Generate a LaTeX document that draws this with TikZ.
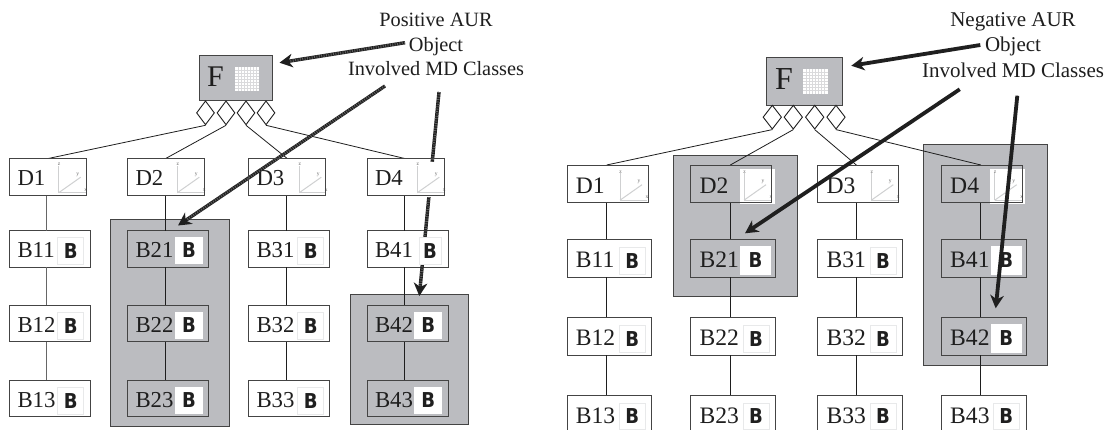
\documentclass[tikz,border=0pt]{standalone}
\usepackage{fontspec}
\setmainfont{Liberation Serif}
\newfontfamily\bfam{DejaVu Sans}
\usetikzlibrary{arrows.meta,shapes.geometric,calc}
\definecolor{grp}{HTML}{BBBCC0}
\definecolor{ink}{HTML}{1E1E1E}
\definecolor{edgec}{HTML}{444444}
\definecolor{faint}{HTML}{E8E9EA}
\definecolor{axisc}{HTML}{CFD0D1}
\newcommand{\bglyph}{\scalebox{.88}[1]{B}}
\tikzset{
  x=1pt,y=-1pt,
  grpbox/.style={draw=edgec,line width=1pt,fill=grp,anchor=north west,inner sep=0pt,rectangle},
  ebox/.style={draw=edgec,line width=1pt,outer sep=0pt,anchor=north west,inner ysep=0pt,align=left,rectangle,text=ink},
  lbox/.style={ebox,inner xsep=8pt,font=\fontsize{22.8}{23}\selectfont,text depth=9.2pt,text height=27.4pt},
  rbox/.style={ebox,inner xsep=8.9pt,font=\fontsize{23.6}{24}\selectfont,text depth=9.6pt,text height=28.2pt},
  dia/.style={diamond,draw=ink,line width=.9pt,fill=white,inner sep=0pt,aspect=.74,minimum width=18pt,minimum height=24pt,anchor=north},
  link/.style={draw=ink,line width=.8pt},
  vlink/.style={draw=black!60,line width=1pt},
  capt/.style={anchor=base,inner sep=0pt,text=ink},
  bicon/.style={rectangle,fill=white,draw=faint,line width=.7pt,inner sep=0pt,minimum width=26pt,minimum height=26.5pt,
     font=\bfam\bfseries\fontsize{20.5}{21}\selectfont,text=black!88},
  bwhite/.style={rectangle,fill=white,inner sep=0pt,minimum width=28pt,minimum height=27.5pt,
     font=\bfam\bfseries\fontsize{20.5}{21}\selectfont,text=black!88},
  dback/.style={rectangle,fill=white,inner sep=0pt},
  axisl/.style={draw=axisc,line width=1pt},
  axist/.style={inner sep=0pt,font=\fontsize{5.5}{6}\selectfont,text=black!60},
  fgrid/.style={rectangle,fill=white,inner sep=0pt},
  gridl/.style={draw=grp!55,line width=.5pt},
  bigarrow/.style={-{Stealth[length=13pt,width=13.5pt,inset=4pt]},line width=#1,draw=black!88,fill=black!88},
  hatch/.style={draw=black!62,line width=2.6pt,dash pattern=on .8pt off 1.6pt,shorten >=10pt},
  boxedge/.style={draw=edgec,line width=1pt},
}
% name, centre x, centre y, width, height
\newcommand{\dicon}[5]{%
  \node[dback,minimum width=#4pt,minimum height=#5pt] (#1) at (#2,#3) {};
  \coordinate (#1o) at ($(#2,#3)+(-13,#5/2-3.8)$);
  \draw[axisl] (#1o) -- ++(0,-27);
  \draw[axisl] (#1o) -- ++(27,0);
  \draw[axisl] (#1o) -- ++(22,-15.5);
  \node[axist] at ($(#1o)+(.5,-28)$) {z};
  \node[axist] at ($(#1o)+(19,-18)$) {y};
  \node[axist] at ($(#1o)+(27,-2.5)$) {x};}
% name, x0, y0, size
\newcommand{\gridicon}[4]{%
  \node[fgrid,minimum size=#4pt,anchor=north west] (#1) at (#2,#3) {};
  \foreach \k in {1,...,7}{
    \draw[gridl] ($(#1.north west)+(\k*#4/8,0)$) -- ($(#1.south west)+(\k*#4/8,0)$);
    \draw[gridl] ($(#1.north west)+(0,\k*#4/8)$) -- ($(#1.north east)+(0,\k*#4/8)$);
  }}
\begin{document}
\begin{tikzpicture}
\useasboundingbox (0,0) rectangle (1113,429);
\clip (0,0) rectangle (1113,429);
\fill[white] (0,0) rectangle (1113,429);
% ---------- LEFT ----------
\node[grpbox,minimum width=118.7pt,minimum height=207.3pt] (gA) at (110,219) {};
\node[grpbox,minimum width=118.5pt,minimum height=130pt] (gB) at (349.5,293.7) {};
\node[grpbox,minimum width=73pt,minimum height=45pt] (F) at (199,55) {};
\node[anchor=base west,inner sep=0pt,text=ink,font=\fontsize{30}{30}\selectfont] (Ft) at (207,86.7) {F};
\gridicon{Fg}{235}{67}{24}
\foreach \n/\x in {1/205.5,2/226,3/246,4/266}
  \node[dia] (d\n) at (\x,100.4) {};
\foreach \n/\x in {D1/9.5,D2/127.5,D3/248.5,D4/367}
  \node[lbox,fill=white,text width=77.4pt-16pt] (\n) at (\x,158.5) {\n};
\foreach \n/\x/\y/\f in {B11/9.5/230.5/white,B12/9.5/305.3/white,B13/9.5/380/white,
  B21/127.5/230.5/none,B22/127.5/305.3/none,B23/127.5/380/none,
  B31/248.5/230.5/white,B32/248.5/305.3/white,B33/248.5/380/white,
  B41/367/230.5/white,B42/367/305.3/none,B43/367/380/none}
  \node[lbox,fill=\f,text width=81pt-16pt] (\n) at (\x,\y) {\n};
\coordinate (ca) at (46.7,0);
\coordinate (cb) at (165,0);
\coordinate (cc) at (286,0);
\coordinate (cd) at (404.7,0);
\draw[link] (d1.south) -- (D1.north);
\draw[link] (d2.south) -- ($(D2.north)+(-.5,0)$);
\draw[link] (d3.south) -- (D3.north);
\draw[link] (d4.south) -- ($(D4.north)+(-1,0)$);
\draw[vlink] (D1.south -| ca) -- (B11.north -| ca) (B11.south -| ca) -- (B12.north -| ca) (B12.south -| ca) -- (B13.north -| ca);
\draw[link] (D2.south -| cb) -- (B21.north -| cb) (B21.south -| cb) -- (B22.north -| cb) (B22.south -| cb) -- (B23.north -| cb);
\draw[link] (D3.south -| cc) -- (B31.north -| cc) (B31.south -| cc) -- (B32.north -| cc) (B32.south -| cc) -- (B33.north -| cc);
\draw[link] (D4.south -| cd) -- (B41.north -| cd) (B41.south -| cd) -- (B42.north -| cd) (B42.south -| cd) -- (B43.north -| cd);
\node[capt,font=\fontsize{20.3}{20}\selectfont] (pa) at (436,26) {Positive AUR};
\node[capt,font=\fontsize{20.3}{20}\selectfont] (pb) at (436,51) {Object};
\node[capt,font=\fontsize{20.3}{20}\selectfont] (pc) at (436,75) {Involved MD Classes};
\coordinate (pb1) at (405,42.7);
\coordinate (pc1) at (385,86);
\coordinate (pc2) at (439,92);
\coordinate (at1) at (279.5,62.7);
\coordinate (at2) at (178,225.5);
\coordinate (at3) at (419.3,296);
\foreach \s/\e in {pb1/at1,pc1/at2,pc2/at3}{
  \draw[bigarrow=3.4pt] (\s) -- (\e);
  \draw[hatch] (\s) -- (\e);
}
\foreach \n/\x in {1/71.7,2/190.3,3/312.3,4/430.3}
  \dicon{dI\n}{\x}{179}{30}{35}
\foreach \n in {D1,D2,D3,D4}
  \draw[boxedge] (\n.south west) rectangle (\n.north east);
\foreach \n/\x/\y in {B11/70.7/251,B12/70.7/326,B13/70.7/400.7,B31/310.7/251,B32/310.7/326,B33/310.7/400.7}
  \node[bicon] (i\n) at (\x,\y) {\bglyph};
\node[bicon,minimum width=22pt] (iB41) at (430,251) {\bglyph};
\foreach \n/\x/\y in {B21/189/250.5,B22/189/325.3,B23/189/400.3,B42/428.3/325.3,B43/428.3/400.3}
  \node[bwhite] (i\n) at (\x,\y) {\bglyph};
% ---------- RIGHT ----------
\node[grpbox,minimum width=124pt,minimum height=140.7pt] (hA) at (672.7,155.3) {};
\node[grpbox,minimum width=124pt,minimum height=221.6pt] (hB) at (923.3,143.7) {};
\node[grpbox,minimum width=75.7pt,minimum height=48pt] (G) at (766.3,56.7) {};
\node[anchor=base west,inner sep=0pt,text=ink,font=\fontsize{32}{32}\selectfont] (Gt) at (775,89.3) {F};
\gridicon{Gg}{803}{69}{24.5}
\foreach \n/\x in {1/772.3,2/793.3,3/814.7,4/836}
  \node[dia,minimum width=18.6pt] (e\n) at (\x,104.7) {};
\foreach \n/\m/\x/\f in {D1/R1/567/white,D2/R2/690.7/none,D3/R3/817.7/white,D4/R4/941.3/none}
  \node[rbox,fill=\f,text width=81.2pt-17.8pt] (\m) at (\x,165) {\n};
\foreach \n/\m/\x/\y/\f in {B11/S11/567/239.3/white,B12/S12/567/317.3/white,B13/S13/567/395/white,
  B21/S21/690.7/239.3/none,B22/S22/690.7/317.3/white,B23/S23/690.7/395/white,
  B31/S31/817.7/239.3/white,B32/S32/817.7/317.3/white,B33/S33/817.7/395/white,
  B41/S41/941.3/239.3/none,B42/S42/941.3/317.3/none,B43/S43/941.3/395/white}
  \node[rbox,fill=\f,text width=84.8pt-17.8pt] (\m) at (\x,\y) {\n};
\coordinate (ra) at (606.3,0);
\coordinate (rb) at (730,0);
\coordinate (rc) at (856.7,0);
\coordinate (rd) at (980.7,0);
\draw[link] (e1.south) -- ($(R1.north)+(-1,0)$);
\draw[link] (e2.south) -- ($(R2.north)+(-1,0)$);
\draw[link] (e3.south) -- ($(R3.north)+(-2,0)$);
\draw[link] (e4.south) -- ($(R4.north)+(-1,0)$);
\foreach \c/\a/\b/\cc/\d in {ra/R1/S11/S12/S13,rb/R2/S21/S22/S23,rc/R3/S31/S32/S33,rd/R4/S41/S42/S43}
  \draw[link] (\a.south -| \c) -- (\b.north -| \c) (\b.south -| \c) -- (\cc.north -| \c) (\cc.south -| \c) -- (\d.north -| \c);
\node[capt,font=\fontsize{21}{21}\selectfont] (qa) at (1013,26.7) {Negative AUR};
\node[capt,font=\fontsize{21}{21}\selectfont] (qb) at (1013,51.7) {Object};
\node[capt,font=\fontsize{21}{21}\selectfont] (qc) at (1013,77.3) {Involved MD Classes};
\foreach \n/\x in {1/633,2/757,3/884.3,4/1007.7}
  \dicon{eI\n}{\x}{186.5}{35}{35}
\foreach \n in {R1,R2,R3,R4}
  \draw[boxedge] (\n.south west) rectangle (\n.north east);
\foreach \n/\x/\y in {S11/632.3/260.7,S12/632.3/339,S13/632.3/416.5,S22/756/339,S23/756/416.5,S31/883/260.7,S32/883/339,S33/883/416.5,S43/1006.3/416.5}
  \node[bicon] (i\n) at (\x,\y) {\bglyph};
\foreach \n/\x/\y in {S21/755.5/260.5,S41/1006.3/260.5,S42/1006.3/338.5}
  \node[bwhite,minimum width=30.5pt,minimum height=29pt] (i\n) at (\x,\y) {\bglyph};
\coordinate (qb1) at (980.3,45);
\coordinate (qc1) at (959.7,89.3);
\coordinate (qc2) at (1017.3,95.7);
\coordinate (bt1) at (851.3,65.7);
\coordinate (bt2) at (745,233.3);
\coordinate (bt3) at (995.7,308.3);
\draw[bigarrow=3.8pt] (qb1) -- (bt1);
\draw[bigarrow=3.8pt] (qc1) -- (bt2);
\draw[bigarrow=3.8pt] (qc2) -- (bt3);
\end{tikzpicture}
\end{document}
